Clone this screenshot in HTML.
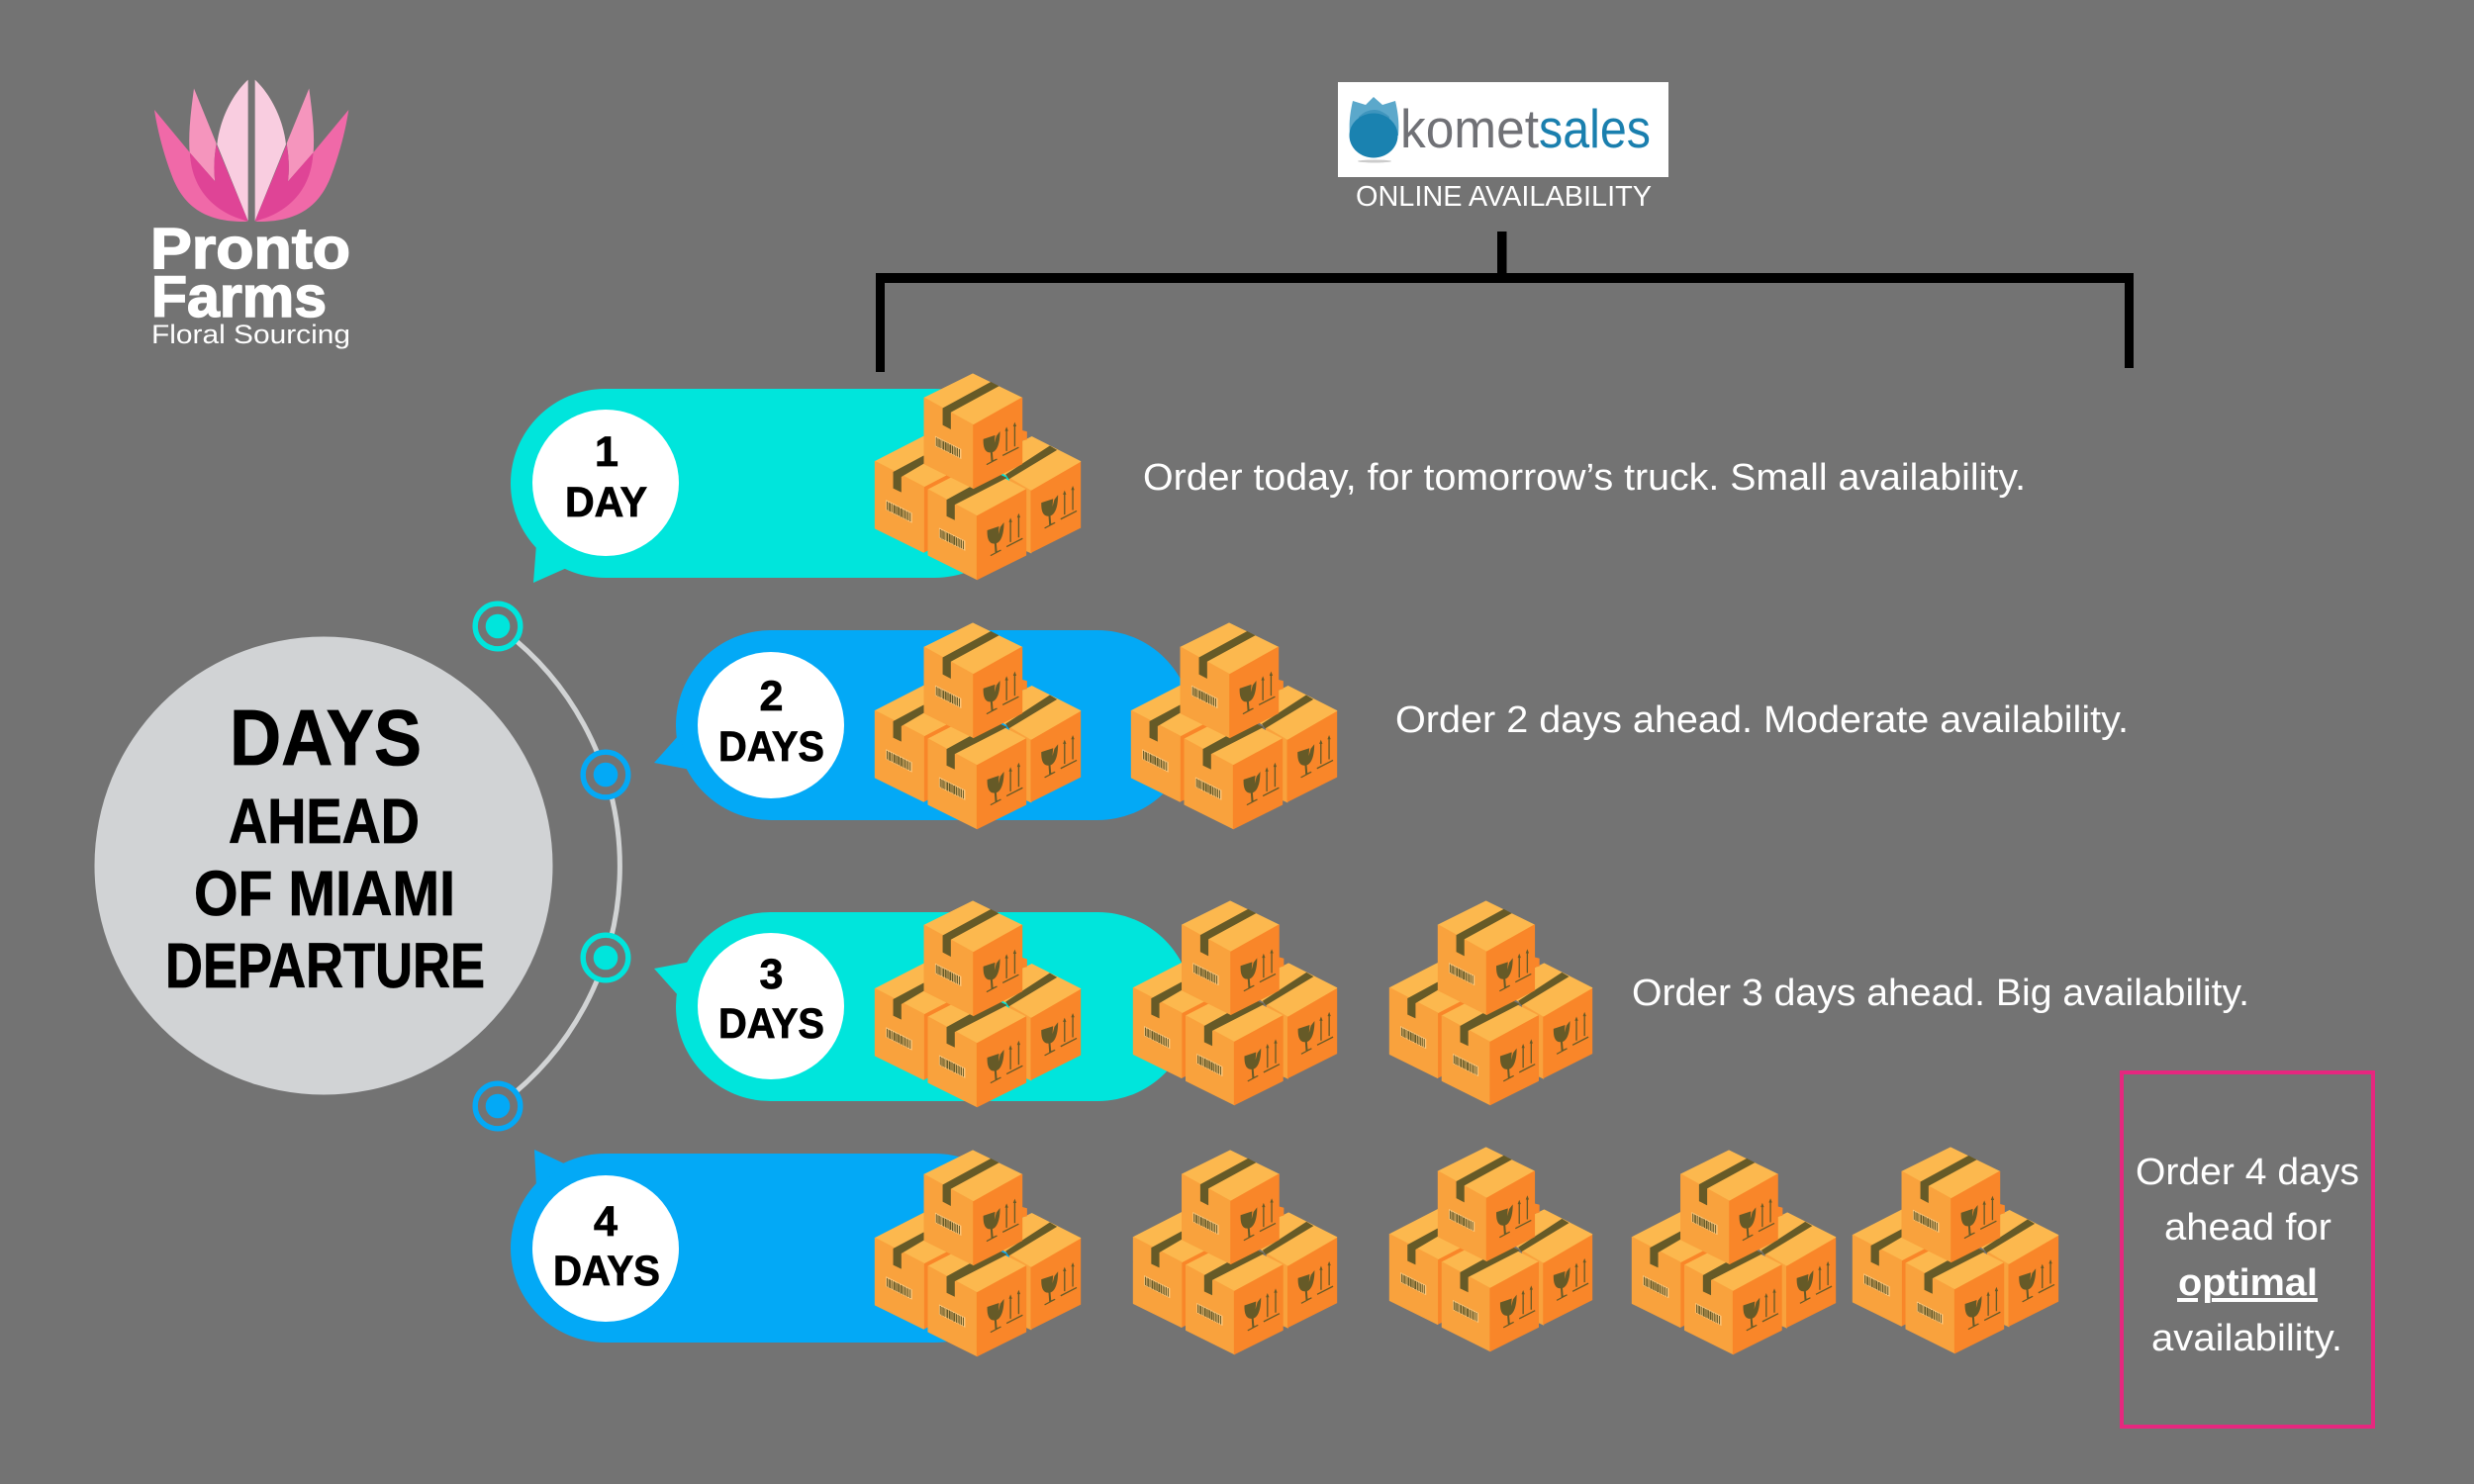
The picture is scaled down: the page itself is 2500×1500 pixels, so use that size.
<!DOCTYPE html>
<html><head><meta charset="utf-8"><title>Days ahead of Miami departure</title>
<style>
html,body{margin:0;padding:0;background:#737373}
svg{display:block}
text{font-family:"Liberation Sans",sans-serif}
.w{fill:#fff;font-size:38px}
.b{fill:#000;stroke:#000;stroke-width:.8px;font-weight:bold}
.t{fill:#fcb84e;stroke:#fcb84e}
.l{fill:#f9a23d;stroke:#f9a23d}
.r{fill:#f98629;stroke:#f98629}
.t,.l,.r{stroke-width:3;stroke-linejoin:round}
.d{fill:#665a27}
</style></head><body>
<svg width="2500" height="1500" viewBox="0 0 2500 1500" xmlns="http://www.w3.org/2000/svg">
<defs>
<g id="code">
  <polygon points="285,240 365,280 365,311 285,271" fill="#fcc67a"/>
  <g stroke="#665a27" stroke-width="3">
    <path d="M289 245v26M294 248v26M298 250v26M303 252v26M309 255v26M312 257v26M317 259v26M321 261v26M325 263v26M330 266v26M333 267v26M338 270v26M343 272v26M348 275v26M353 277v26M359 280v26"/>
  </g>
</g>
<g id="sign">
  <path class="d" d="M432 250L468 238 466 262 472 240 483 226C483 260 475 285 460 290L462 314 473 309 475 312 443 329 441 326 456 318 454 291C443 291 431 285 432 250Z"/>
  <path d="M503 286V222M528 272V208" stroke="#665a27" stroke-width="4" fill="none"/>
  <path class="d" d="M503 212l5 13h-10zM528 198l5 13h-10z"/>
  <path d="M491 300L540 275" stroke="#665a27" stroke-width="4"/>
</g>
<symbol id="boxes" viewBox="98 48 634 634" preserveAspectRatio="none">
  <!-- back left -->
  <polygon class="r" points="250,395 400,317 400,520 250,595"/>
  <polygon class="t" points="102,318 250,242 400,317 250,395"/>
  <polygon class="l" points="102,318 250,395 250,595 102,522"/>
  <polygon class="d" points="157,350 250,300 262,318 182,365 182,412 157,400"/>
  <use href="#code" x="-150" y="195"/>
  <!-- back right -->
  <polygon class="l" points="510,362 578,405 578,597 563,590"/>
  <polygon class="r" points="578,405 728,318 728,520 578,595"/>
  <polygon class="t" points="430,317 580,243 728,318 578,405"/>
  <polygon class="d" points="500,358 635,270 657,283 510,372"/>
  <use href="#sign" x="177" y="194"/>
  <!-- bump -->
  <polygon class="r" points="540,222 564,228 564,250 540,256"/>
  <!-- front -->
  <polygon class="t" points="264,404 412,328 562,404 413,485"/>
  <polygon class="l" points="264,404 413,485 413,678 264,604"/>
  <polygon class="r" points="413,485 562,404 562,604 413,678"/>
  <polygon class="d" points="320,435 470,352 505,368 345,450 345,497 320,485"/>
  <use href="#code" x="12" y="280"/>
  <use href="#sign" x="12" y="278"/>
  <!-- top -->
  <polygon class="t" points="252,124 400,51 550,124 402,207"/>
  <polygon class="l" points="252,124 402,207 402,400 252,325"/>
  <polygon class="r" points="402,207 550,124 550,325 402,400"/>
  <polygon class="d" points="308,155 455,75 480,88 333,168 333,220 308,207"/>
  <use href="#code"/>
  <use href="#sign"/>
</symbol>
</defs>

<rect width="2500" height="1500" fill="#737373"/>

<!-- Logo -->
<g transform="translate(130 60) scale(.3333)">
  <g id="half">
    <path fill="#f9cde0" d="M362 62C310 110 275 190 268 258L362 490Z"/>
    <path fill="#f595bd" d="M198 88L266 255C258 300 258 340 262 370L185 283C180 220 190 150 198 88Z"/>
    <path fill="#f069a8" d="M78 153L186 283C190 370 250 450 362 492C250 495 170 460 130 350 100 270 85 200 78 153Z"/>
    <path fill="#df4496" d="M186 283L262 370C258 340 258 300 266 258L362 490C270 470 190 400 186 283Z"/>
  </g>
  <use href="#half" transform="translate(745 0) scale(-1 1)"/>
</g>
<text x="152" y="271" font-size="58" font-weight="bold" fill="#fff" stroke="#fff" stroke-width="1.5" textLength="202" lengthAdjust="spacingAndGlyphs">Pronto</text>
<text x="153" y="320" font-size="58" font-weight="bold" fill="#fff" stroke="#fff" stroke-width="1.5" textLength="177" lengthAdjust="spacingAndGlyphs">Farms</text>
<text x="153" y="347" font-size="27" fill="#fff" textLength="201" lengthAdjust="spacingAndGlyphs">Floral Sourcing</text>

<!-- Komet -->
<rect x="1352" y="83" width="334" height="96" fill="#fff"/>
<path d="M1367 102L1380 106 1388 98 1397 106 1410 102C1413 115 1414 125 1413 137L1364 137C1363 125 1364 115 1367 102Z" fill="#5ba8cb"/>
<path d="M1373 118Q1388 104 1404 118L1404 130 1373 130Z" fill="#3f95bd"/>
<ellipse cx="1388" cy="137" rx="24.500" ry="22.500" fill="#1a82b0"/>
<ellipse cx="1389" cy="163" rx="17" ry="1.500" fill="#ccc"/>
<text x="1415" y="149" font-size="55" fill="#707176" textLength="140" lengthAdjust="spacingAndGlyphs">komet</text>
<text x="1555" y="149" font-size="55" fill="#1a7fae" textLength="113" lengthAdjust="spacingAndGlyphs">sales</text>
<text x="1370" y="208" font-size="29" fill="#fff" textLength="299" lengthAdjust="spacingAndGlyphs">ONLINE AVAILABILITY</text>

<!-- Bracket -->
<path d="M1513 234h9.500v43h-9.500zM885 276H2156V372H2147V286H894V376H885Z" fill="#000"/>

<!-- Big circle and arc -->
<circle cx="327" cy="875" r="231.500" fill="#d1d3d5"/>
<path d="M503 633A300 300 0 0 1 503 1118" fill="none" stroke="#d1d3d4" stroke-width="5"/>
<text class="b" x="232" y="773" font-size="80" textLength="194" lengthAdjust="spacingAndGlyphs">DAYS</text>
<text class="b" x="231" y="852" font-size="64" textLength="193" lengthAdjust="spacingAndGlyphs">AHEAD</text>
<text class="b" x="196" y="925" font-size="64" textLength="264" lengthAdjust="spacingAndGlyphs">OF MIAMI</text>
<text class="b" x="167" y="998" font-size="64" textLength="323" lengthAdjust="spacingAndGlyphs">DEPARTURE</text>

<!-- Rings -->
<g stroke-width="5.400">
  <circle cx="503" cy="633" r="22.800" fill="#737373" stroke="#00e5dc"/>
  <circle cx="612" cy="783" r="22.800" fill="#737373" stroke="#03a9f6"/>
  <circle cx="612" cy="968" r="22.800" fill="#737373" stroke="#00e5dc"/>
  <circle cx="503" cy="1118" r="22.800" fill="#737373" stroke="#03a9f6"/>
</g>
<circle cx="503" cy="633" r="12.300" fill="#00e5dc"/>
<circle cx="612" cy="783" r="12.300" fill="#03a9f6"/>
<circle cx="612" cy="968" r="12.300" fill="#00e5dc"/>
<circle cx="503" cy="1118" r="12.300" fill="#03a9f6"/>

<!-- Bubbles -->
<rect x="516" y="393" width="524" height="191" rx="95.500" fill="#00e5dc"/>
<polygon points="542,550 539,589 575,573" fill="#00e5dc"/>
<rect x="683" y="637" width="522" height="192" rx="96" fill="#03a9f6"/>
<polygon points="686,743 661,771 698,778" fill="#03a9f6"/>
<rect x="683" y="922" width="522" height="191" rx="95.500" fill="#00e5dc"/>
<polygon points="698,972 661,979 686,1007" fill="#00e5dc"/>
<rect x="516" y="1166" width="524" height="191" rx="95.500" fill="#03a9f6"/>
<polygon points="540,1162 572,1177 542,1199" fill="#03a9f6"/>

<!-- White discs + labels -->
<circle cx="612" cy="488" r="74" fill="#fff"/>
<circle cx="779" cy="733" r="74" fill="#fff"/>
<circle cx="779" cy="1017" r="74" fill="#fff"/>
<circle cx="612" cy="1262" r="74" fill="#fff"/>
<g font-size="43" text-anchor="middle">
  <text class="b" x="613" y="471">1</text>
  <text class="b" x="779.500" y="718">2</text>
  <text class="b" x="779.500" y="999">3</text>
  <text class="b" x="612" y="1249">4</text>
</g>
<g font-size="43">
  <text class="b" x="571" y="522" textLength="83" lengthAdjust="spacingAndGlyphs">DAY</text>
  <text class="b" x="726" y="769" textLength="107" lengthAdjust="spacingAndGlyphs">DAYS</text>
  <text class="b" x="726" y="1049" textLength="107" lengthAdjust="spacingAndGlyphs">DAYS</text>
  <text class="b" x="559" y="1299" textLength="108" lengthAdjust="spacingAndGlyphs">DAYS</text>
</g>

<!-- Box stacks -->
<use href="#boxes" x="883" y="377" width="210" height="210"/>
<use href="#boxes" x="883" y="629" width="210" height="210"/>
<use href="#boxes" x="1142" y="629" width="210" height="210"/>
<use href="#boxes" x="883" y="910" width="210" height="210"/>
<use href="#boxes" x="1144" y="910" width="208" height="208"/>
<use href="#boxes" x="1403" y="910" width="207" height="208"/>
<use href="#boxes" x="883" y="1162" width="210" height="210"/>
<use href="#boxes" x="1144" y="1162" width="208" height="208"/>
<use href="#boxes" x="1403" y="1159" width="207" height="208"/>
<use href="#boxes" x="1648" y="1162" width="208" height="208"/>
<use href="#boxes" x="1871" y="1159" width="210" height="210"/>

<!-- Descriptions -->
<text class="w" x="1155" y="495" textLength="892" lengthAdjust="spacingAndGlyphs">Order today, for tomorrow’s truck. Small availability.</text>
<text class="w" x="1410" y="740" textLength="741" lengthAdjust="spacingAndGlyphs">Order 2 days ahead. Moderate availability.</text>
<text class="w" x="1649" y="1016" textLength="624" lengthAdjust="spacingAndGlyphs">Order 3 days ahead. Big availability.</text>

<!-- Pink box -->
<rect x="2144" y="1084" width="254" height="358" fill="none" stroke="#e6277f" stroke-width="4"/>
<text class="w" x="2158" y="1197" textLength="226" lengthAdjust="spacingAndGlyphs">Order 4 days</text>
<text class="w" x="2187" y="1253" textLength="169" lengthAdjust="spacingAndGlyphs">ahead for</text>
<text class="w" x="2201" y="1309" font-weight="bold" textLength="141" lengthAdjust="spacingAndGlyphs">optimal</text>
<path d="M2200 1312h21v4h-21zM2235 1312h107v4h-107z" fill="#fff"/>
<text class="w" x="2174" y="1365" textLength="193" lengthAdjust="spacingAndGlyphs">availability.</text>
</svg>
</body></html>
